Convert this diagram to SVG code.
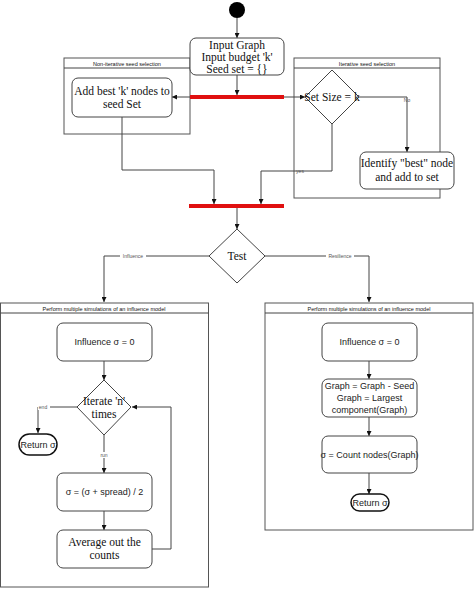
<svg xmlns="http://www.w3.org/2000/svg" width="474" height="596" viewBox="0 0 474 596">
<defs>
<marker id="ar" viewBox="0 0 10 10" refX="10" refY="5" markerWidth="5" markerHeight="5" orient="auto" markerUnits="userSpaceOnUse"><path d="M0,0 L10,5 L0,10 z" fill="#111"/></marker>
</defs>
<style>
.box{fill:#fff;stroke:#444;stroke-width:1}
.grp{fill:#fff;stroke:#555;stroke-width:1}
.ln{fill:none;stroke:#444;stroke-width:1}
.sf{font-family:"Liberation Serif",serif;font-size:11.5px;fill:#111;text-anchor:middle}
.ss{font-family:"Liberation Sans",sans-serif;font-size:9px;fill:#222;text-anchor:middle}
.hd{font-family:"Liberation Sans",sans-serif;font-size:5.5px;fill:#111;text-anchor:middle}
.lb{font-family:"Liberation Sans",sans-serif;font-size:5px;fill:#555;text-anchor:middle}
.bar{fill:#e01010}
.ret{fill:#fff;stroke:#111;stroke-width:1.5}
</style>
<rect width="474" height="596" fill="#fff"/>

<g id="grp-noniter">
<rect class="grp" x="64" y="58" width="126" height="76"/>
<line class="ln" x1="64" y1="68" x2="190" y2="68"/>
<text class="hd" x="127" y="65.5">Non-iterative seed selection</text>
</g>
<g id="grp-iter">
<rect class="grp" x="294" y="58" width="146" height="140"/>
<line class="ln" x1="294" y1="68" x2="440" y2="68"/>
<text class="hd" x="367" y="65.5">Iterative seed selection</text>
</g>
<g id="grp-influence">
<rect class="grp" x="0.5" y="303" width="208" height="284"/>
<line class="ln" x1="0.5" y1="313" x2="208.5" y2="313"/>
<text class="hd" x="104" y="310.5">Perform multiple simulations of an influence model</text>
</g>
<g id="grp-resilience">
<rect class="grp" x="265" y="303" width="208" height="227"/>
<line class="ln" x1="265" y1="313" x2="473" y2="313"/>
<text class="hd" x="369" y="310.5">Perform multiple simulations of an influence model</text>
</g>

<g id="connectors">
<line class="ln" x1="237" y1="18" x2="237" y2="38" marker-end="url(#ar)"/>
<line class="ln" x1="237" y1="75" x2="237" y2="95" marker-end="url(#ar)"/>
<line class="ln" x1="190" y1="97" x2="172" y2="97" marker-end="url(#ar)"/>
<line class="ln" x1="284" y1="97" x2="305" y2="97" marker-end="url(#ar)"/>
<polyline class="ln" points="359,97 407,97 407,152" marker-end="url(#ar)"/>
<text class="lb" x="407" y="102">No</text>
<polyline class="ln" points="332,124 332,171 261,171 261,204" marker-end="url(#ar)"/>
<text class="lb" x="300" y="173">yes</text>
<polyline class="ln" points="122,117 122,170 214,170 214,204" marker-end="url(#ar)"/>
<line class="ln" x1="237" y1="208" x2="237" y2="229" marker-end="url(#ar)"/>
<polyline class="ln" points="209,256 104,256 104,302" marker-end="url(#ar)"/>
<rect x="120" y="253" width="26" height="6" fill="#fff"/>
<text class="lb" x="133" y="257.8">Influence</text>
<polyline class="ln" points="265,256 369,256 369,302" marker-end="url(#ar)"/>
<rect x="326" y="253" width="28" height="6" fill="#fff"/>
<text class="lb" x="340" y="257.8">Resilience</text>
<line class="ln" x1="104" y1="361" x2="104" y2="380" marker-end="url(#ar)"/>
<polyline class="ln" points="77,407 38,407 38,433" marker-end="url(#ar)"/>
<rect x="38" y="404" width="12" height="6" fill="#fff"/>
<text class="lb" x="43" y="409">end</text>
<line class="ln" x1="104" y1="435" x2="104" y2="473" marker-end="url(#ar)"/>
<rect x="98" y="452" width="12" height="6" fill="#fff"/>
<text class="lb" x="104" y="457">run</text>
<line class="ln" x1="104" y1="511" x2="104" y2="530" marker-end="url(#ar)"/>
<polyline class="ln" points="152,549 171,549 171,407 132,407" marker-end="url(#ar)"/>
<line class="ln" x1="369" y1="361" x2="369" y2="379" marker-end="url(#ar)"/>
<line class="ln" x1="369" y1="417" x2="369" y2="436" marker-end="url(#ar)"/>
<line class="ln" x1="369" y1="473" x2="369" y2="494" marker-end="url(#ar)"/>
</g>

<g id="start"><circle cx="237" cy="10" r="8" fill="#000"/></g>
<g id="input">
<rect class="box" x="190" y="38" width="94" height="37" rx="6"/>
<text class="sf" x="237" y="49">Input Graph</text>
<text class="sf" x="237" y="61">Input budget 'k'</text>
<text class="sf" x="237" y="73">Seed set = {}</text>
</g>
<g id="fork1"><rect class="bar" x="190" y="95" width="94" height="4"/></g>
<g id="addbest">
<rect class="box" x="72" y="78" width="100" height="39" rx="6"/>
<text class="sf" x="122" y="95">Add best 'k' nodes to</text>
<text class="sf" x="122" y="108">seed Set</text>
</g>
<g id="setsize">
<path class="box" d="M332,70 L359,97 L332,124 L305,97 Z" stroke-linejoin="round"/>
<text class="sf" x="332" y="101">Set Size = k</text>
</g>
<g id="identify">
<rect class="box" x="360" y="152" width="94" height="37" rx="6"/>
<text class="sf" x="407" y="167">Identify "best" node</text>
<text class="sf" x="407" y="181">and add to set</text>
</g>
<g id="join"><rect class="bar" x="189" y="204" width="95" height="4"/></g>
<g id="test">
<path class="box" d="M237,229 L265,256 L237,283 L209,256 Z" stroke-linejoin="round"/>
<text class="sf" x="237" y="260">Test</text>
</g>

<g id="inf0-left">
<rect class="box" x="57" y="323" width="95" height="38" rx="6"/>
<text class="ss" x="104.5" y="345">Influence σ = 0</text>
</g>
<g id="iterate">
<path class="box" d="M104,380 L131,407 L104,435 L77,407 Z" stroke-linejoin="round"/>
<text class="sf" x="104" y="405">Iterate 'n'</text>
<text class="sf" x="104" y="418">times</text>
</g>
<g id="return-left">
<rect class="ret" x="19" y="434" width="38" height="21" rx="10.5"/>
<text class="ss" x="38" y="448">Return σ</text>
</g>
<g id="sigma">
<rect class="box" x="57" y="473" width="95" height="38" rx="6"/>
<text class="ss" x="104.5" y="495">σ = (σ + spread) / 2</text>
</g>
<g id="average">
<rect class="box" x="57" y="530" width="95" height="38" rx="6"/>
<text class="sf" x="104.5" y="546">Average out the</text>
<text class="sf" x="104.5" y="559">counts</text>
</g>

<g id="inf0-right">
<rect class="box" x="322" y="323" width="95" height="38" rx="6"/>
<text class="ss" x="369.5" y="345">Influence σ = 0</text>
</g>
<g id="graph">
<rect class="box" x="322" y="379" width="95" height="38" rx="6"/>
<text class="ss" x="369.5" y="389">Graph = Graph - Seed</text>
<text class="ss" x="369.5" y="401">Graph = Largest</text>
<text class="ss" x="369.5" y="413">component(Graph)</text>
</g>
<g id="count">
<rect class="box" x="322" y="436" width="95" height="37" rx="6"/>
<text class="ss" x="369.5" y="458">σ = Count nodes(Graph)</text>
</g>
<g id="return-right">
<rect class="ret" x="351" y="494" width="38" height="17" rx="8.5"/>
<text class="ss" x="370" y="506">Return σ</text>
</g>
</svg>
